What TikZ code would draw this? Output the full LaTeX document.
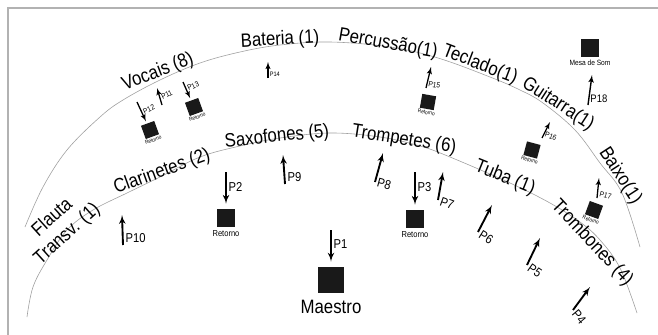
\documentclass[tikz,border=0pt]{standalone}
\usepackage{fontspec}
\setmainfont{Liberation Sans}[FakeStretch=0.87]
\usetikzlibrary{arrows,positioning,shapes.geometric}

\begin{document}
\begin{tikzpicture}[x=0.03cm, y=-0.03cm]
\tikzstyle{stagearc} = [draw=gray!75, line width=0.5pt]
\tikzstyle{grouplabel} = [font=\fontsize{16.5}{19}\selectfont, inner sep=0pt]
\tikzstyle{speaker} = [rectangle, fill=black!90, inner sep=0pt, minimum size=16pt]
\tikzstyle{smallspeaker} = [rectangle, fill=black!90, inner sep=0pt, minimum size=12pt]
\tikzstyle{mic} = [draw, line width=1.6pt, -latex']
\tikzstyle{smallmic} = [draw, line width=1.1pt, -latex']
\tikzstyle{plab} = [font=\fontsize{11}{12}\selectfont, inner sep=1.5pt]
\tikzstyle{plabsm} = [font=\fontsize{6.5}{7}\selectfont, inner sep=1pt]
\tikzstyle{rettxt} = [font=\fontsize{7.4}{8}\selectfont, inner sep=0pt]
\tikzstyle{rettxtsm} = [font=\fontsize{4.7}{5}\selectfont, inner sep=0pt]

\useasboundingbox (0,0) rectangle (658,335);

% Frame
\draw[gray!60, line width=1.5pt] (8,335) -- (8,8) -- (658,8);

% Stage arcs
\draw[stagearc] plot[smooth, tension=0.6] coordinates {(25,227) (43,187) (67,150) (100,117) (123,100) (160,80) (200,63) (240,52) (280,45) (330,42) (390,47) (438,58) (490,77) (520,90) (543,103) (575,130) (600,163) (622,193) (640,247)};
\draw[stagearc] plot[smooth, tension=0.6] coordinates {(27,317) (33,287) (47,260) (67,230) (93,210) (127,193) (160,177) (200,157) (240,146) (280,138) (330,133) (380,137) (420,146) (450,157) (510,183) (550,203) (580,222) (600,240) (620,268) (637,313)};

% Groups on the outer arc
\node[grouplabel, rotate=21] (vocais) at (158,72) {Vocais (8)};
\node[grouplabel, rotate=3] (bateria) at (280,40) {Bateria (1)};
\node[grouplabel, rotate=-10] (percussao) at (388,44) {Percussão(1)};
\node[grouplabel, rotate=-21] (teclado) at (480,65) {Teclado(1)};
\node[grouplabel, rotate=-33] (guitarra) at (558,104) {Guitarra(1)};
\node[grouplabel, rotate=-57] (baixo) at (620,176) {Baixo(1)};

% Groups on the inner arc
\node[grouplabel, rotate=42, align=center] (flauta) at (60,226) {Flauta\\Transv. (1)};
\node[grouplabel, rotate=20] (clarinetes) at (162,172) {Clarinetes (2)};
\node[grouplabel, rotate=6] (saxofones) at (277,137) {Saxofones (5)};
\node[grouplabel, rotate=-9] (trompetes) at (404,140) {Trompetes (6)};
\node[grouplabel, rotate=-22] (tuba) at (505,178) {Tuba (1)};
\node[grouplabel, rotate=-47] (trombones) at (592,243) {Trombones (4)};

% Maestro
\node[speaker, minimum size=23pt] (maestro) at (331,280) {};
\node[grouplabel, below=5pt of maestro] (maestrotxt) {Maestro};
\coordinate (p1) at (331,230);
\draw[mic, shorten >=4pt] (p1) -- node[plab, right, pos=0.4] {P1} (maestro);

% Retorno boxes in front
\node[speaker] (ret2) at (226,218) {};
\node[rettxt, below=2pt of ret2] (ret2txt) {Retorno};
\coordinate (p2) at (226,172);
\draw[mic, shorten >=4pt] (p2) -- node[plab, right, pos=0.4] {P2} (ret2);

\node[speaker] (ret3) at (415,219) {};
\node[rettxt, below=2pt of ret3] (ret3txt) {Retorno};
\coordinate (p3) at (415,172);
\draw[mic, shorten >=4pt] (p3) -- node[plab, right, pos=0.4] {P3} (ret3);

% Microphones between the arcs
\coordinate (p4a) at (573,310); \coordinate (p4b) at (590,287);
\draw[mic] (p4a) -- node[plab, at start, anchor=west, rotate=-50] {P4} (p4b);
\coordinate (p5a) at (527,265); \coordinate (p5b) at (540,238);
\draw[mic] (p5a) -- node[plab, at start, anchor=west, rotate=-35] {P5} (p5b);
\coordinate (p6a) at (478,232); \coordinate (p6b) at (492,205);
\draw[mic] (p6a) -- node[plab, at start, anchor=west, rotate=-32] {P6} (p6b);
\coordinate (p7a) at (438,200); \coordinate (p7b) at (443,172);
\draw[mic] (p7a) -- node[plab, at start, anchor=west, rotate=-20] {P7} (p7b);
\coordinate (p8a) at (375,182); \coordinate (p8b) at (383,153);
\draw[mic] (p8a) -- node[plab, at start, anchor=west, rotate=-15] {P8} (p8b);
\coordinate (p9a) at (285,184); \coordinate (p9b) at (283,155);
\draw[mic] (p9a) -- node[plab, at start, anchor=south west] {P9} (p9b);
\coordinate (p10a) at (123,245); \coordinate (p10b) at (122,215);
\draw[mic] (p10a) -- node[plab, at start, anchor=south west] {P10} (p10b);

% Vocais
\node[smallspeaker, rotate=20] (ret12) at (150,130) {};
\node[rettxtsm, rotate=20, below=1pt of ret12] (ret12txt) {Retorno};
\coordinate (p12) at (137,102);
\draw[smallmic, shorten >=2pt] (p12) -- node[plabsm, right, pos=0.5, rotate=25] {P12} (ret12);
\coordinate (p11a) at (162,105); \coordinate (p11b) at (157,88);
\draw[smallmic] (p11a) -- node[plabsm, right, pos=0.4, rotate=25] {P11} (p11b);
\node[smallspeaker, rotate=20] (ret13) at (194,107) {};
\node[rettxtsm, rotate=20, below=1pt of ret13] (ret13txt) {Retorno};
\coordinate (p13) at (183,82);
\draw[smallmic, shorten >=2pt] (p13) -- node[plabsm, right, pos=0.4, rotate=25] {P13} (ret13);

% Bateria
\coordinate (p14a) at (268,78); \coordinate (p14b) at (268,62);
\draw[smallmic] (p14a) -- node[plabsm, at start, anchor=south west, font=\fontsize{5.5}{6}\selectfont] {P14} (p14b);

% Percussao, teclado, guitarra, baixo
\node[smallspeaker, rotate=-10] (ret15) at (428,102) {};
\node[rettxtsm, rotate=-10, below=1pt of ret15] (ret15txt) {Retorno};
\coordinate (p15a) at (426,88); \coordinate (p15b) at (431,67);
\draw[smallmic] (p15a) -- node[plabsm, at start, anchor=south west, rotate=-10] {P15} (p15b);

\node[smallspeaker, rotate=-15] (ret16) at (532,150) {};
\node[rettxtsm, rotate=-15, below=1pt of ret16] (ret16txt) {Retorno};
\coordinate (p16a) at (542,138); \coordinate (p16b) at (550,122);
\draw[smallmic] (p16a) -- node[plabsm, at start, anchor=south west, rotate=-20] {P16} (p16b);

\node[smallspeaker, rotate=-20] (ret17) at (594,210) {};
\node[rettxtsm, rotate=-20, below=1pt of ret17] (ret17txt) {Retorno};
\coordinate (p17a) at (597,198); \coordinate (p17b) at (599,178);
\draw[smallmic] (p17a) -- node[plabsm, at start, anchor=south west, rotate=-15] {P17} (p17b);

% Mesa de Som
\node[speaker] (mesa) at (590,48) {};
\node[rettxt, font=\fontsize{6.5}{7}\selectfont, below=2pt of mesa] (mesatxt) {Mesa de Som};
\coordinate (p18a) at (588,105); \coordinate (p18b) at (592,75);
\draw[mic, line width=1.2pt] (p18a) -- node[plab, at start, anchor=south west, font=\fontsize{9.3}{10}\selectfont] {P18} (p18b);

\end{tikzpicture}
\end{document}
